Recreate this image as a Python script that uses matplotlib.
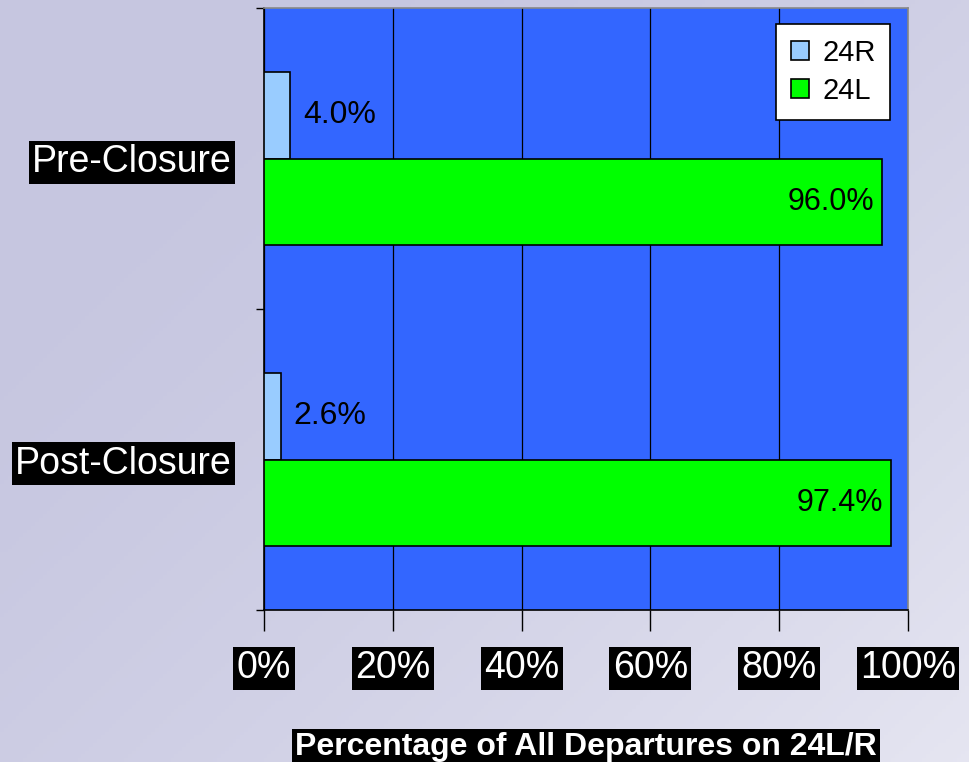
import numpy as np
import matplotlib
matplotlib.use("Agg")
import matplotlib.pyplot as plt
from matplotlib.ticker import FixedLocator, PercentFormatter

categories = ["Pre-Closure", "Post-Closure"]
series_names = ["24R", "24L"]
values_24R = [4.0, 2.6]
values_24L = [96.0, 97.4]
x_ticks = [0, 20, 40, 60, 80, 100]
x_label = "Percentage of All Departures on 24L/R"

plt.rcParams['font.family'] = ['Liberation Sans', 'DejaVu Sans']

fig = plt.figure(figsize=(9.69, 7.62), dpi=100)

# sky-like background
bg = fig.add_axes([0, 0, 1, 1], zorder=0)
h, w = 200, 250
yy, xx = np.mgrid[0:1:h * 1j, 0:1:w * 1j]
light = np.clip(0.55 * xx + 0.45 * yy - 0.15, 0, 1) ** 1.5
c1 = np.array([198, 198, 224]) / 255
c2 = np.array([238, 238, 246]) / 255
img = c1[None, None, :] * (1 - light[..., None]) + c2[None, None, :] * light[..., None]
bg.imshow(img, aspect='auto', extent=[0, 1, 0, 1], origin='upper')
bg.set_axis_off()

ax = fig.add_axes([264 / 969, 1 - 610 / 762, 644 / 969, 602 / 762], zorder=1)
ax.set_facecolor('#3366FF')

bar_h = 0.287
y = np.arange(len(categories))
b1 = ax.barh(y - bar_h / 2, values_24R, height=bar_h, color='#99CCFF',
             edgecolor='black', linewidth=1.2, label=series_names[0], zorder=3)
b2 = ax.barh(y + bar_h / 2, values_24L, height=bar_h, color='#00FF00',
             edgecolor='black', linewidth=1.2, label=series_names[1], zorder=3)

for rect, v in zip(b1, values_24R):
    ax.annotate(f"{v:.1f}%", (rect.get_width(), rect.get_y() + rect.get_height() / 2),
                xytext=(13, 0), textcoords='offset pixels',
                ha='left', va='center', fontsize=23, color='black', zorder=4)
for rect, v in zip(b2, values_24L):
    ax.annotate(f"{v:.1f}%", (rect.get_width(), rect.get_y() + rect.get_height() / 2),
                xytext=(-8, 0), textcoords='offset pixels',
                ha='right', va='center', fontsize=22, color='black', zorder=4)

ax.set_xlim(0, 100)
ax.set_ylim(len(categories) - 0.5, -0.5)

ax.xaxis.set_major_locator(FixedLocator(x_ticks))
ax.xaxis.set_major_formatter(PercentFormatter(decimals=0))
ax.grid(axis='x', color='black', linewidth=0.9, zorder=1)
ax.set_axisbelow(True)

ax.set_yticks(y)
ax.set_yticklabels(categories)
ax.yaxis.set_minor_locator(FixedLocator([-0.5, 0.5, 1.5]))
ax.tick_params(axis='y', which='major', length=0, pad=23)
ax.tick_params(axis='y', which='minor', length=6, width=1, color='black')
ax.tick_params(axis='x', which='major', length=15, width=1, color='black', pad=14)

for lab in ax.get_yticklabels() + ax.get_xticklabels():
    lab.set_fontsize(27)
    lab.set_color('white')
    lab.set_bbox(dict(facecolor='black', edgecolor='none', pad=2.5))

ax.set_xlabel(x_label, fontsize=23, fontweight='bold', color='white', labelpad=33,
              bbox=dict(facecolor='black', edgecolor='none', pad=2))

for side in ['top', 'right']:
    ax.spines[side].set_color('#888888')
    ax.spines[side].set_linewidth(1.2)
for side in ['left', 'bottom']:
    ax.spines[side].set_color('black')
    ax.spines[side].set_linewidth(1.2)

leg = ax.legend(loc='upper right', bbox_to_anchor=(0.972, 0.973), borderaxespad=0,
                fancybox=False, framealpha=1, edgecolor='black', fontsize=21,
                handlelength=0.62, handleheight=0.62, handletextpad=0.45,
                labelspacing=0.35, borderpad=0.5)
leg.get_frame().set_linewidth(1.2)
leg.set_zorder(5)

fig.savefig("out.png", dpi=100)
